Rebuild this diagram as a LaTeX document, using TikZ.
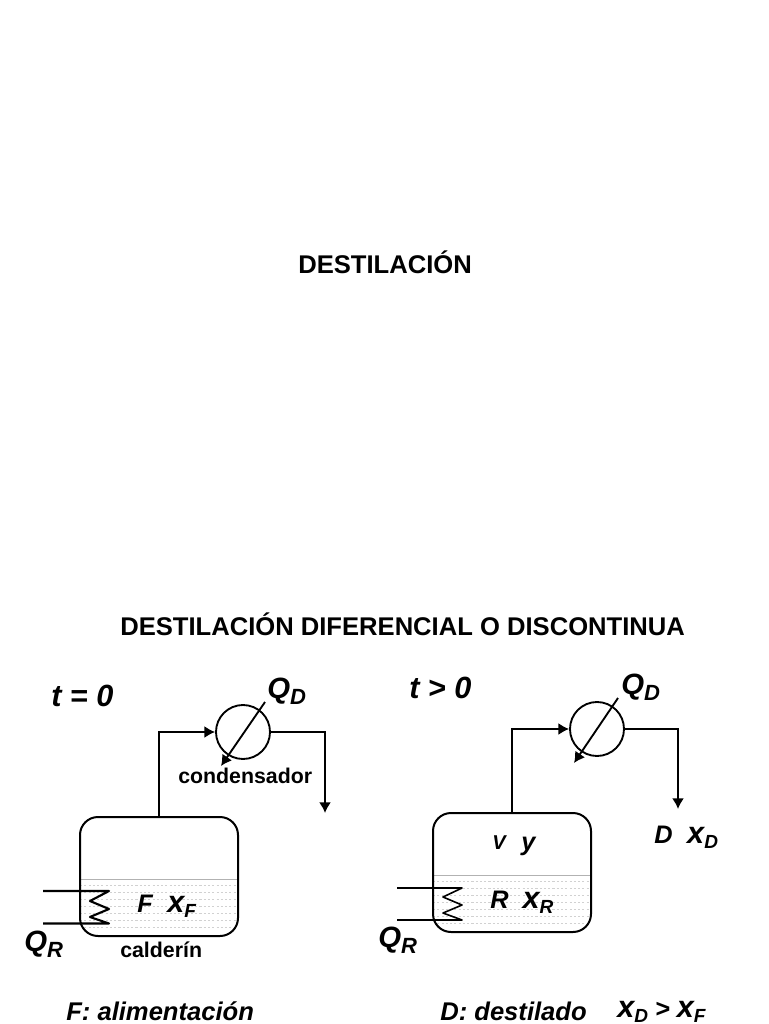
\documentclass[tikz,border=0pt]{standalone}
\usepackage{fontspec}
\setmainfont{Liberation Sans}
\newcommand{\sbs}[2][0.75]{\raisebox{-0.21em}{\scalebox{#1}{#2}}}
\newcommand{\bigx}{{\fontsize{23}{24}\selectfont x}}
\tikzset{
  x=0.75pt,y=-0.75pt,
  tank/.style={draw,line width=1.5pt,rounded corners=13.5pt,minimum width=118.5pt,minimum height=89.25pt,inner sep=0pt},
  cond/.style={draw,circle,line width=1.4pt,minimum size=40.5pt,inner sep=0pt},
  pipe/.style={line width=1.4pt,-{Latex[length=8pt,width=9pt]}},
  liq/.style={draw=black!30,line width=0.5pt},
  liqd/.style={draw=black!18,line width=0.45pt,dash pattern=on 1.6pt off 1.6pt},
  coil/.style={line width=1.6pt,line join=round},
  txt/.style={anchor=base west,inner sep=0pt,font=\bfseries\fontsize{19.2}{21}\selectfont},
  ital/.style={anchor=base west,inner sep=0pt,font=\bfseries\itshape\fontsize{19.2}{21}\selectfont},
  big/.style={anchor=base west,inner sep=0pt,font=\bfseries\itshape\fontsize{22}{24}\selectfont},
  mid/.style={anchor=base west,inner sep=0pt,font=\bfseries\itshape\fontsize{19}{21}\selectfont},
  small/.style={anchor=base west,inner sep=0pt,font=\bfseries\fontsize{16}{18}\selectfont},
}
\usetikzlibrary{arrows.meta}
\begin{document}
\begin{tikzpicture}
\useasboundingbox (0,0) rectangle (768,1024);
\clip (0,0) rectangle (768,1024);
% left liquid
\begin{scope}
\clip[rounded corners=13.5pt] (80,817) rectangle (238,936);
\draw[liq] (80,879) -- (238,879);
\foreach \yy in {885,892,899,906,913,920,927}{\draw[liqd] (80,\yy) -- (238,\yy);}
\end{scope}
\begin{scope}
\clip[rounded corners=13.5pt] (433,813) rectangle (591,932);
\draw[liq] (433,875) -- (591,875);
\foreach \yy in {881,888,895,902,909,916,923}{\draw[liqd] (433,\yy) -- (591,\yy);}
\end{scope}
% vessels
\node[tank] (tankA) at (159,876.5) {};
\node[tank] (tankB) at (512,872.5) {};
\node[cond] (condA) at (243,732) {};
\node[cond] (condB) at (597,729) {};
\coordinate (outA) at (325,813);
\coordinate (outB) at (678,809);
\coordinate (diagAs) at (265,702);
\coordinate (diagAe) at (221,766);
\coordinate (diagBs) at (618,698);
\coordinate (diagBe) at (574,763);
\draw[pipe] (tankA.north) |- (condA.west);
\draw[pipe] (tankB.north) |- (condB.west);
\draw[pipe,shorten <=-1.5pt] (condA.east) -| (outA);
\draw[pipe,shorten <=-1.5pt] (condB.east) -| (outB);
\draw[pipe] (diagAs) -- (diagAe);
\draw[pipe] (diagBs) -- (diagBe);
% coils
\coordinate (cA1) at (43,891);
\coordinate (cA2) at (109,891);
\coordinate (cA3) at (90,901);
\coordinate (cA4) at (109,909);
\coordinate (cA5) at (90,917);
\coordinate (cA6) at (109,923.5);
\coordinate (cA7) at (43,923.5);
\draw[coil] (cA1) -- (cA2) -- (cA3) -- (cA4) -- (cA5) -- (cA6) -- (cA7);
\coordinate (cB1) at (397,888);
\coordinate (cB2) at (462,888);
\coordinate (cB3) at (443,897);
\coordinate (cB4) at (462,905);
\coordinate (cB5) at (443,913);
\coordinate (cB6) at (462,920);
\coordinate (cB7) at (397,920);
\draw[coil,line width=1.2pt] (cB1) -- (cB2) -- (cB3) -- (cB4) -- (cB5) -- (cB6) -- (cB7);
% text
\node[txt] (title1) at (298,273) {DESTILACIÓN};
\node[txt] (title2) at (120,635) {DESTILACIÓN DIFERENCIAL O DISCONTINUA};
\node[big,font=\bfseries\itshape\fontsize{23}{24}\selectfont] (t0) at (51,706) {t = 0};
\node[big,font=\bfseries\itshape\fontsize{23}{24}\selectfont] (t1) at (409,698) {t > 0};
\node[big] (qd1) at (267,698) {Q\sbs{D}};
\node[big] (qd2) at (621,694) {Q\sbs{D}};
\node[big] (qr1) at (24,951) {Q\sbs{R}};
\node[big] (qr2) at (378,947) {Q\sbs{R}};
\node[small] (lc) at (178,783) {condensador};
\node[small] (lk) at (120,957) {calderín};
\node[mid] (f1) at (137,912) {F\hspace{11pt}\bigx\sbs{F}};
\node[mid] (r1) at (490,908) {R\hspace{10.5pt}\bigx\sbs{R}};
\node[mid] (d1) at (654,843) {D\hspace{11pt}\bigx\sbs{D}};
\node[mid,font=\bfseries\itshape\fontsize{15}{18}\selectfont] (v1) at (492,849) {V};
\node[mid] (y1) at (521,850) {y};
\node[ital] (fa) at (66,1020) {F: alimentación};
\node[ital] (dd) at (440,1020) {D: destilado};
\node[mid] (xx) at (617,1017) {\bigx\sbs{D} > \bigx\sbs{F}};
\end{tikzpicture}
\end{document}
